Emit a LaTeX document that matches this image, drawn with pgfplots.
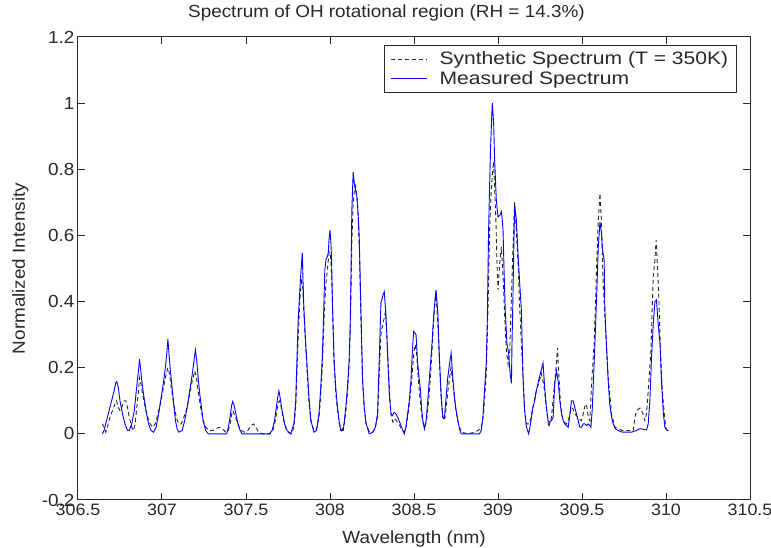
\documentclass[border=0pt]{standalone}
\usepackage{fontspec}
\setmainfont{Liberation Sans}[FakeStretch=1.08]
\newfontfamily\legfont{Liberation Sans}[FakeStretch=1.17]
\usepackage{pgfplots}
\usepackage{pgfplotstable}
\pgfplotsset{compat=1.18}
\definecolor{mblue}{RGB}{0,0,255}
\definecolor{axgray}{RGB}{40,40,40}

\pgfplotstableread{
w v
306.645 0.00
306.655 0.01
306.67 0.04
306.685 0.07
306.70 0.10
306.715 0.13
306.725 0.155
306.731 0.158
306.74 0.14
306.75 0.10
306.765 0.06
306.78 0.03
306.795 0.01
306.805 0.01
306.82 0.03
306.835 0.07
306.845 0.12
306.855 0.17
306.862 0.20
306.866 0.226
306.872 0.20
306.88 0.16
306.89 0.12
306.905 0.07
306.92 0.03
306.935 0.01
306.95 0.005
306.965 0.02
306.98 0.06
306.995 0.11
307.01 0.16
307.02 0.20
307.028 0.24
307.035 0.286
307.042 0.24
307.05 0.19
307.06 0.14
307.07 0.09
307.08 0.04
307.09 0.015
307.10 0.005
307.12 0.01
307.135 0.04
307.15 0.08
307.165 0.13
307.18 0.18
307.19 0.22
307.199 0.254
307.207 0.22
307.215 0.17
307.225 0.12
307.235 0.08
307.245 0.04
307.26 0.01
307.276 0.00
307.30 0.00
307.33 0.00
307.36 0.00
307.385 0.00
307.395 0.02
307.405 0.05
307.414 0.085
307.421 0.098
307.43 0.085
307.44 0.06
307.45 0.035
307.465 0.01
307.477 0.00
307.52 0.00
307.56 0.00
307.60 0.00
307.64 0.00
307.655 0.01
307.67 0.04
307.683 0.09
307.69 0.115
307.696 0.13
307.703 0.11
307.715 0.07
307.73 0.03
307.745 0.01
307.766 0.00
307.785 0.03
307.796 0.10
307.81 0.335
307.818 0.41
307.825 0.475
307.835 0.548
307.84 0.45
307.845 0.375
307.855 0.275
307.865 0.193
307.875 0.11
307.885 0.042
307.905 0.005
307.92 0.01
307.935 0.063
307.945 0.14
307.955 0.24
307.962 0.36
307.969 0.495
307.977 0.53
307.985 0.536
307.99 0.55
307.994 0.586
308.0 0.616
308.005 0.58
308.009 0.536
308.015 0.385
308.024 0.224
308.034 0.14
308.044 0.083
308.054 0.04
308.064 0.01
308.079 0.01
308.094 0.08
308.104 0.14
308.114 0.224
308.12 0.32
308.124 0.445
308.13 0.677
308.138 0.792
308.144 0.76
308.148 0.747
308.155 0.73
308.16 0.717
308.168 0.66
308.174 0.596
308.184 0.375
308.194 0.163
308.204 0.08
308.214 0.033
308.233 0.00
308.255 0.005
308.27 0.02
308.283 0.06
308.293 0.22
308.303 0.395
308.313 0.415
308.323 0.43
308.333 0.36
308.343 0.24
308.353 0.12
308.363 0.06
308.372 0.055
308.382 0.065
308.393 0.06
308.403 0.05
308.415 0.035
308.43 0.015
308.442 0.00
308.452 0.02
308.462 0.06
308.472 0.10
308.482 0.163
308.492 0.264
308.498 0.31
308.505 0.305
308.512 0.30
308.522 0.213
308.53 0.17
308.538 0.135
308.545 0.08
308.552 0.042
308.562 0.015
308.572 0.04
308.582 0.10
308.591 0.163
308.606 0.264
308.618 0.365
308.631 0.435
308.642 0.365
308.651 0.233
308.661 0.12
308.671 0.05
308.681 0.05
308.691 0.11
308.701 0.17
308.711 0.21
308.721 0.244
308.731 0.17
308.741 0.11
308.751 0.07
308.761 0.042
308.771 0.015
308.781 0.00
308.82 0.00
308.86 0.00
308.89 0.00
308.90 0.01
308.91 0.05
308.92 0.133
308.93 0.214
308.936 0.335
308.944 0.616
308.95 0.75
308.956 0.868
308.962 0.95
308.966 1.0
308.97 0.97
308.974 0.939
308.98 0.828
308.99 0.707
309.0 0.656
309.01 0.66
309.02 0.672
309.025 0.65
309.03 0.616
309.036 0.495
309.043 0.375
309.053 0.274
309.063 0.244
309.072 0.183
309.08 0.153
309.083 0.264
309.089 0.415
309.094 0.56
309.099 0.69
309.104 0.67
309.109 0.65
309.119 0.546
309.128 0.465
309.139 0.375
309.149 0.173
309.158 0.073
309.169 0.022
309.182 0.00
309.19 0.02
309.199 0.05
309.208 0.08
309.218 0.10
309.228 0.13
309.238 0.153
309.248 0.175
309.258 0.193
309.268 0.214
309.278 0.14
309.288 0.08
309.298 0.04
309.308 0.035
309.318 0.04
309.328 0.05
309.338 0.153
309.348 0.19
309.358 0.16
309.368 0.10
309.378 0.06
309.388 0.04
309.397 0.03
309.408 0.025
309.418 0.02
309.428 0.06
309.437 0.10
309.447 0.10
309.457 0.08
309.467 0.06
309.477 0.04
309.487 0.02
309.497 0.02
309.507 0.03
309.517 0.03
309.527 0.025
309.537 0.03
309.547 0.025
309.553 0.02
309.561 0.073
309.569 0.173
309.577 0.274
309.587 0.415
309.597 0.566
309.607 0.641
309.616 0.606
309.622 0.556
309.632 0.526
309.636 0.375
309.646 0.264
309.656 0.16
309.665 0.09
309.676 0.05
309.686 0.03
309.70 0.015
309.716 0.01
309.74 0.005
309.77 0.005
309.796 0.005
309.81 0.008
309.825 0.01
309.84 0.015
309.854 0.015
309.87 0.013
309.884 0.012
309.894 0.03
309.904 0.10
309.914 0.234
309.924 0.33
309.934 0.40
309.943 0.405
309.954 0.33
309.964 0.274
309.974 0.15
309.984 0.063
309.993 0.02
310.009 0.01
310.016 0.01
}\measured

\pgfplotstableread{
w v
306.645 0.03
306.655 0.02
306.665 0.005
306.675 0.02
306.69 0.05
306.705 0.07
306.72 0.09
306.73 0.10
306.74 0.08
306.75 0.07
306.76 0.08
306.775 0.10
306.785 0.10
306.795 0.08
306.805 0.05
306.82 0.02
306.83 0.01
306.84 0.03
306.85 0.08
306.86 0.13
306.866 0.17
306.875 0.15
306.885 0.12
306.9 0.08
306.915 0.05
306.93 0.03
306.945 0.02
306.96 0.03
306.975 0.06
306.99 0.09
307.005 0.13
307.02 0.17
307.035 0.20
307.045 0.18
307.055 0.14
307.07 0.09
307.085 0.05
307.10 0.03
307.115 0.03
307.13 0.05
307.15 0.08
307.165 0.12
307.18 0.16
307.195 0.19
307.205 0.17
307.215 0.13
307.23 0.08
307.245 0.04
307.26 0.02
307.28 0.01
307.30 0.01
307.32 0.015
307.34 0.02
307.36 0.015
307.38 0.005
307.395 0.01
307.405 0.03
307.415 0.06
307.422 0.07
307.43 0.06
307.445 0.04
307.46 0.02
307.475 0.01
307.49 0.005
307.51 0.01
307.53 0.025
307.545 0.03
307.56 0.02
307.575 0.005
307.60 0.00
307.64 0.00
307.66 0.01
307.675 0.04
307.69 0.09
307.698 0.10
307.706 0.09
307.72 0.05
307.735 0.02
307.75 0.005
307.77 0.00
307.785 0.02
307.796 0.08
307.81 0.28
307.82 0.40
307.83 0.47
307.838 0.44
307.845 0.36
307.855 0.27
307.865 0.18
307.875 0.09
307.89 0.03
307.905 0.01
307.92 0.015
307.935 0.05
307.945 0.12
307.955 0.21
307.965 0.35
307.975 0.45
307.985 0.50
307.995 0.55
308.003 0.54
308.01 0.48
308.017 0.35
308.025 0.21
308.035 0.12
308.045 0.07
308.055 0.03
308.07 0.01
308.085 0.03
308.095 0.07
308.105 0.13
308.115 0.22
308.122 0.35
308.13 0.58
308.138 0.70
308.146 0.74
308.152 0.75
308.16 0.72
308.168 0.66
308.175 0.55
308.183 0.37
308.193 0.17
308.203 0.08
308.215 0.03
308.235 0.005
308.255 0.005
308.27 0.02
308.283 0.05
308.293 0.18
308.303 0.30
308.313 0.33
308.323 0.35
308.33 0.37
308.338 0.30
308.346 0.22
308.355 0.12
308.365 0.05
308.375 0.035
308.385 0.045
308.395 0.04
308.41 0.03
308.425 0.015
308.44 0.005
308.452 0.02
308.462 0.05
308.472 0.09
308.482 0.14
308.492 0.20
308.5 0.25
308.508 0.27
308.516 0.24
308.525 0.17
308.535 0.11
308.545 0.06
308.555 0.03
308.565 0.02
308.575 0.04
308.585 0.09
308.595 0.15
308.607 0.25
308.618 0.35
308.63 0.43
308.642 0.33
308.652 0.21
308.662 0.11
308.672 0.05
308.682 0.04
308.692 0.08
308.702 0.13
308.712 0.17
308.72 0.20
308.73 0.16
308.74 0.11
308.75 0.07
308.76 0.04
308.77 0.02
308.785 0.005
308.82 0.00
308.86 0.005
308.88 0.01
308.895 0.015
308.905 0.03
308.915 0.07
308.93 0.18
308.94 0.365
308.95 0.616
308.96 0.737
308.967 0.79
308.974 0.823
308.98 0.74
308.988 0.637
308.994 0.516
309.0 0.435
309.01 0.516
309.02 0.566
309.03 0.475
309.04 0.355
309.05 0.25
309.06 0.21
309.07 0.25
309.08 0.415
309.089 0.556
309.099 0.70
309.109 0.616
309.119 0.516
309.128 0.395
309.139 0.274
309.149 0.173
309.158 0.07
309.169 0.03
309.188 0.03
309.208 0.08
309.228 0.13
309.248 0.163
309.258 0.183
309.272 0.15
309.288 0.08
309.302 0.02
309.318 0.05
309.333 0.13
309.348 0.214
309.354 0.26
309.361 0.19
309.372 0.09
309.387 0.04
309.408 0.03
309.425 0.05
309.437 0.08
309.447 0.075
309.457 0.06
309.477 0.05
309.497 0.04
309.507 0.06
309.517 0.083
309.527 0.09
309.537 0.05
309.547 0.04
309.557 0.153
309.573 0.28
309.587 0.505
309.597 0.646
309.607 0.727
309.616 0.636
309.626 0.455
309.636 0.36
309.646 0.26
309.656 0.17
309.676 0.06
309.696 0.02
309.74 0.01
309.776 0.01
309.805 0.01
309.815 0.05
309.825 0.07
309.845 0.078
309.864 0.06
309.874 0.04
309.884 0.06
309.894 0.13
309.91 0.25
309.924 0.475
309.934 0.526
309.941 0.586
309.95 0.50
309.958 0.40
309.967 0.25
309.978 0.13
309.99 0.06
310.0 0.015
310.01 0.005
}\synthetic

\begin{document}
\begin{tikzpicture}[font=\fontsize{17.5}{20}\selectfont]
\path[use as bounding box] (-78pt,-48pt) rectangle (693pt,500pt);
\begin{axis}[
  scale only axis,
  width=672pt, height=463pt,
  xmin=306.5, xmax=310.5,
  ymin=-0.2, ymax=1.2,
  xtick={306.5,307,307.5,308,308.5,309,309.5,310,310.5},
  xticklabels={306.5,307,307.5,308,308.5,309,309.5,310,310.5},
  ytick={-0.2,0,0.2,0.4,0.6,0.8,1,1.2},
  yticklabels={-0.2,0,0.2,0.4,0.6,0.8,1,1.2},
  tick align=inside,
  tick pos=both,
  major tick length=7pt,
  axis line style={axgray, line width=1pt},
  every tick/.style={axgray, line width=1pt},
  tick label style={text=axgray},
  xticklabel style={font=\fontsize{16.5}{20}\selectfont},
  xlabel={Wavelength (nm)},
  ylabel={Normalized Intensity},
  title={Spectrum of OH rotational region (RH = 14.3\%)},
  xlabel style={at={(axis description cs:0.5,-0.093)}, anchor=base, text=axgray},
  ylabel style={at={(axis description cs:-0.0789,0.5)}, anchor=base, rotate=0, text=axgray},
  title style={at={(axis description cs:0.459,1.029)}, anchor=base, text=axgray},
  legend style={at={(axis description cs:0.9807,0.9827)}, anchor=north east,
    draw=axgray, line width=0.8pt, inner xsep=6pt, inner ysep=4pt,
    row sep=0pt, column sep=10pt,
    font=\legfont\fontsize{18}{19}\selectfont,
    nodes={inner sep=2.5pt, text=axgray}},
  legend cell align=left,
  legend image code/.code={\draw[#1] (0pt,0pt) -- (36pt,0pt);},
]
\addplot[black!85, line width=0.9pt, dash pattern=on 4pt off 3pt] table[x=w,y=v] {\synthetic};
\addlegendentry{Synthetic Spectrum (T = 350K)}
\addplot[mblue, line width=0.9pt] table[x=w,y=v] {\measured};
\addlegendentry{Measured Spectrum}
\end{axis}
\end{tikzpicture}
\end{document}
